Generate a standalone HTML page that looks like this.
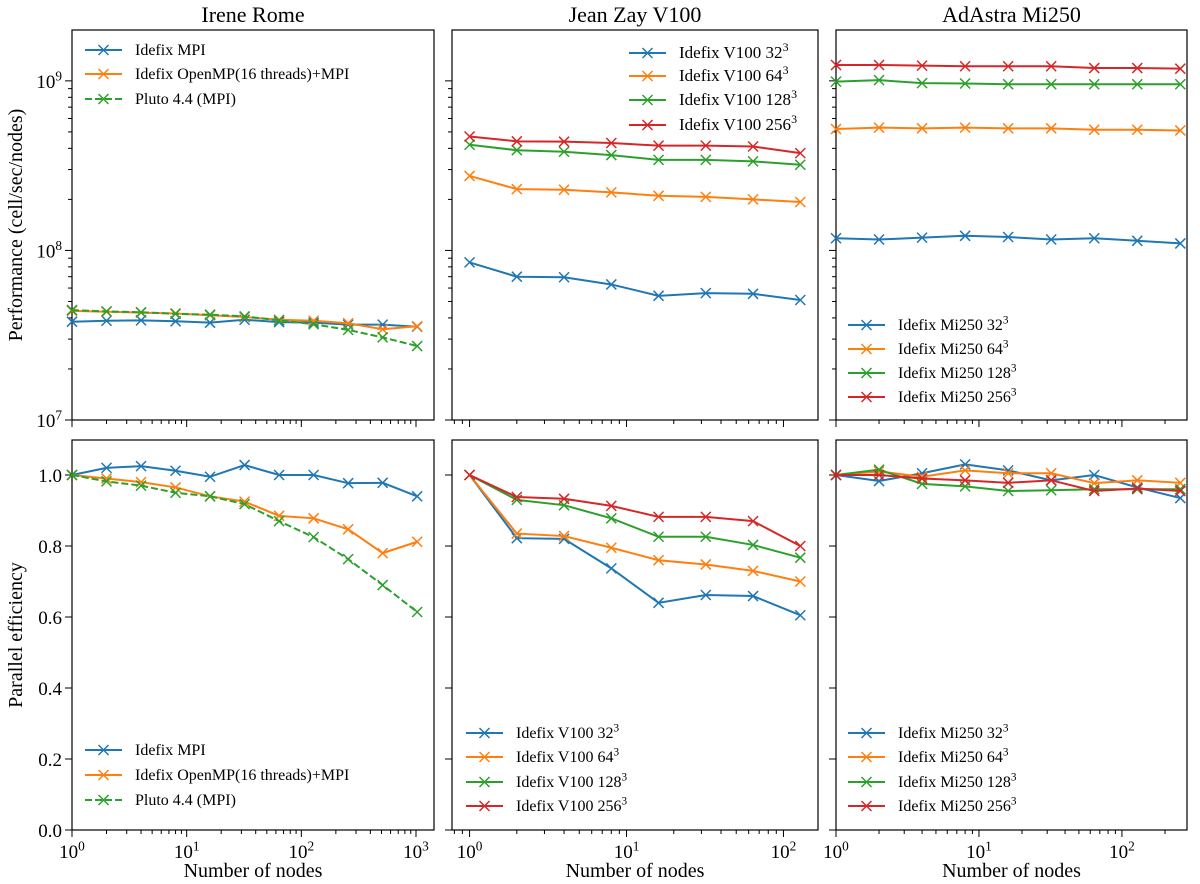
<!DOCTYPE html>
<html><head><meta charset="utf-8"><style>
body{margin:0;background:#fff}
svg{display:block;font-family:"Liberation Serif","DejaVu Serif",serif}
</style></head><body>
<svg id="fig" width="1200" height="884" viewBox="0 0 1200 884"></svg>
<script>
const C=['#1f77b4','#ff7f0e','#2ca02c','#d62728'];
const xIrene=[1,2,4,8,16,32,64,128,256,512,1024];
const xJZ=[1,2,4,8,16,32,64,128];
const xAA=[1,2,4,8,16,32,64,128,256];
const ireneMpiPerf=[3.8e7,3.85e7,3.87e7,3.82e7,3.75e7,3.9e7,3.78e7,3.75e7,3.65e7,3.65e7,3.55e7];
const ireneOmpPerf=[4.4e7,4.35e7,4.3e7,4.25e7,4.15e7,4.05e7,3.9e7,3.85e7,3.72e7,3.43e7,3.57e7];
const irenePlutoPerf=[4.45e7,4.37e7,4.32e7,4.23e7,4.18e7,4.08e7,3.87e7,3.67e7,3.4e7,3.07e7,2.73e7];
const ireneMpiEff=[1.0,1.02,1.025,1.012,0.995,1.028,1.0,1.0,0.977,0.978,0.94];
const ireneOmpEff=[1.0,0.99,0.98,0.965,0.94,0.925,0.885,0.878,0.847,0.78,0.812];
const irenePlutoEff=[1.0,0.982,0.97,0.95,0.94,0.918,0.87,0.825,0.763,0.69,0.614];
const jz32Perf=[8.5e7,7e7,6.95e7,6.3e7,5.4e7,5.6e7,5.55e7,5.1e7];
const jz64Perf=[2.75e8,2.3e8,2.28e8,2.2e8,2.1e8,2.07e8,2.0e8,1.93e8];
const jz128Perf=[4.2e8,3.9e8,3.82e8,3.65e8,3.42e8,3.42e8,3.35e8,3.2e8];
const jz256Perf=[4.7e8,4.4e8,4.38e8,4.3e8,4.15e8,4.15e8,4.1e8,3.75e8];
const jz32Eff=[1,0.822,0.82,0.737,0.64,0.662,0.659,0.605];
const jz64Eff=[1,0.835,0.828,0.795,0.76,0.748,0.73,0.70];
const jz128Eff=[1,0.93,0.915,0.878,0.826,0.826,0.803,0.767];
const jz256Eff=[1,0.938,0.933,0.913,0.882,0.882,0.87,0.80];
const aa32Perf=[1.18e8,1.16e8,1.19e8,1.22e8,1.2e8,1.16e8,1.18e8,1.14e8,1.1e8];
const aa64Perf=[5.2e8,5.3e8,5.25e8,5.3e8,5.25e8,5.25e8,5.15e8,5.15e8,5.1e8];
const aa128Perf=[9.9e8,1.01e9,9.7e8,9.65e8,9.55e8,9.55e8,9.55e8,9.55e8,9.55e8];
const aa256Perf=[1.24e9,1.24e9,1.23e9,1.22e9,1.22e9,1.22e9,1.19e9,1.19e9,1.18e9];
const aa32Eff=[1,0.983,1.005,1.03,1.013,0.985,1.0,0.965,0.935];
const aa64Eff=[1,1.01,0.995,1.013,1.005,1.005,0.977,0.985,0.978];
const aa128Eff=[1,1.015,0.975,0.968,0.955,0.957,0.96,0.96,0.96];
const aa256Eff=[1,1.0,0.99,0.985,0.978,0.985,0.955,0.962,0.955];
const titles=['Irene Rome','Jean Zay V100','AdAstra Mi250'];

const svg=document.getElementById('fig');const NS='http://www.w3.org/2000/svg';
function mk(t,a,p){const e=document.createElementNS(NS,t);for(const k in a)e.setAttribute(k,a[k]);(p||svg).appendChild(e);return e;}
const cols=[{l:72,r:434,x0:0,x1:3.157},{l:452,r:818,x0:-0.112,x1:2.22},{l:836,r:1187,x0:0,x1:2.455}];
const rows=[{t:30,b:420,log:true,y0:7,y1:9.3},{t:440,b:830,log:false,y0:0,y1:1.0986}];
function sx(c,v){const p=cols[c];return p.l+(Math.log10(v)-p.x0)/(p.x1-p.x0)*(p.r-p.l);}
function sy(r,v){const p=rows[r];const t=p.log?Math.log10(v):v;return p.b-(t-p.y0)/(p.y1-p.y0)*(p.b-p.t);}
function sup(el,base,exp,sz){el.textContent=base;const s=mk('tspan',{'font-size':sz*0.7,dy:-sz*0.4},el);s.textContent=exp;}
function marker(g,x,y,c){mk('path',{d:`M${x-5},${y-5}L${x+5},${y+5}M${x-5},${y+5}L${x+5},${y-5}`,stroke:c,'stroke-width':1.5,fill:'none'},g);}
function series(c,r,xs,ys,col,name,dash){
  const g=mk('g',{});
  
  
  const pts=xs.map((x,i)=>[sx(c,x),sy(r,ys[i])]);
  mk('polyline',{points:pts.map(p=>p.join(',')).join(' '),fill:'none',stroke:col,'stroke-width':2,'stroke-dasharray':dash?'7,3':'none'},g);
  pts.forEach(p=>marker(g,p[0],p[1],col));
}
function legend(x,ys,items,fs,c){
  const g=mk('g',{});
  
  
  items.forEach((it,i)=>{const y=ys[i];
    mk('line',{x1:x,y1:y,x2:x+37,y2:y,stroke:it[0],'stroke-width':2,'stroke-dasharray':it[3]?'7,3':'none'},g);
    marker(g,x+18.5,y,it[0]);
    const t=mk('text',{x:x+50,y:y+5,'font-size':fs},g);
    if(it[2])sup(t,it[1],it[2],fs);else t.textContent=it[1];
  });
}
for(let c=0;c<3;c++)for(let r=0;r<2;r++){
  const p=cols[c],q=rows[r];
  const ax=mk('g',{});
  
  
  // x ticks
  for(let d=-1;d<=3;d++)for(let m=1;m<10;m++){const v=m*Math.pow(10,d);const lv=Math.log10(v);
    if(lv<p.x0-1e-6||lv>p.x1+1e-6)continue;const x=sx(c,v);const L=m==1?7:4;
    mk('line',{x1:x,y1:q.b,x2:x,y2:q.b+L,stroke:'#000','stroke-width':1},ax);
    if(m==1&&r==1){const t=mk('text',{x:x,y:q.b+28,'text-anchor':'middle','font-size':19},ax);sup(t,'10',String(d),19);}
  }
  // y ticks
  if(q.log){for(let d=7;d<=9;d++)for(let m=1;m<10;m++){const v=m*Math.pow(10,d);const lv=Math.log10(v);if(lv>q.y1)continue;const y=sy(r,v);const L=m==1?7:4;
      mk('line',{x1:p.l,y1:y,x2:p.l-L,y2:y,stroke:'#000','stroke-width':1},ax);
      if(m==1&&c==0){const t=mk('text',{x:p.l-10,y:y+7,'text-anchor':'end','font-size':19},ax);sup(t,'10',String(d),19);}}}
  else{for(let i=0;i<=5;i++){const v=i*0.2;const y=sy(r,v);mk('line',{x1:p.l,y1:y,x2:p.l-7,y2:y,stroke:'#000','stroke-width':1},ax);
      if(c==0){const t=mk('text',{x:p.l-10,y:y+7,'text-anchor':'end','font-size':19},ax);t.textContent=v.toFixed(1);}}}
  mk('rect',{x:p.l,y:q.t,width:p.r-p.l,height:q.b-q.t,fill:'none',stroke:'#000','stroke-width':1.2},ax);
}
titles.forEach((t,c)=>{const e=mk('text',{x:(cols[c].l+cols[c].r)/2,y:22,'text-anchor':'middle','font-size':22});e.textContent=t;
  
  
  const xl=mk('text',{x:(cols[c].l+cols[c].r)/2,y:877,'text-anchor':'middle','font-size':20});xl.textContent='Number of nodes';
  
  });
const yl1=mk('text',{transform:'translate(22,225) rotate(-90)','text-anchor':'middle','font-size':20});yl1.textContent='Performance (cell/sec/nodes)';


const yl2=mk('text',{transform:'translate(22,635) rotate(-90)','text-anchor':'middle','font-size':20});yl2.textContent='Parallel efficiency';



series(0,0,xIrene,ireneMpiPerf,C[0],'irene-mpi-perf');
series(0,0,xIrene,ireneOmpPerf,C[1],'irene-openmp-perf');
series(0,0,xIrene,irenePlutoPerf,C[2],'irene-pluto-perf',true);
series(0,1,xIrene,ireneMpiEff,C[0],'irene-mpi-eff');
series(0,1,xIrene,ireneOmpEff,C[1],'irene-openmp-eff');
series(0,1,xIrene,irenePlutoEff,C[2],'irene-pluto-eff',true);
[jz32Perf,jz64Perf,jz128Perf,jz256Perf].forEach((s,i)=>series(1,0,xJZ,s,C[i],'jz-perf-'+i));
[jz32Eff,jz64Eff,jz128Eff,jz256Eff].forEach((s,i)=>series(1,1,xJZ,s,C[i],'jz-eff-'+i));
[aa32Perf,aa64Perf,aa128Perf,aa256Perf].forEach((s,i)=>series(2,0,xAA,s,C[i],'aa-perf-'+i));
[aa32Eff,aa64Eff,aa128Eff,aa256Eff].forEach((s,i)=>series(2,1,xAA,s,C[i],'aa-eff-'+i));

const irL=[[C[0],'Idefix MPI'],[C[1],'Idefix OpenMP(16 threads)+MPI'],[C[2],'Pluto 4.4 (MPI)',null,true]];
legend(85,[50,74,99],irL,16,'irene-top');
legend(85,[750,775,800],irL,16,'irene-bottom');
const sizes=['32','64','128','256'];
legend(629,[53,76,100,125],sizes.map((s,i)=>[C[i],'Idefix V100 '+s,'3']),17,'jz-top');
legend(466,[733,757,782,806],sizes.map((s,i)=>[C[i],'Idefix V100 '+s,'3']),16,'jz-bottom');
legend(848,[325,349,373,397],sizes.map((s,i)=>[C[i],'Idefix Mi250 '+s,'3']),16,'aa-top');
legend(848,[733,757,782,806],sizes.map((s,i)=>[C[i],'Idefix Mi250 '+s,'3']),16,'aa-bottom');
</script>
</body></html>
